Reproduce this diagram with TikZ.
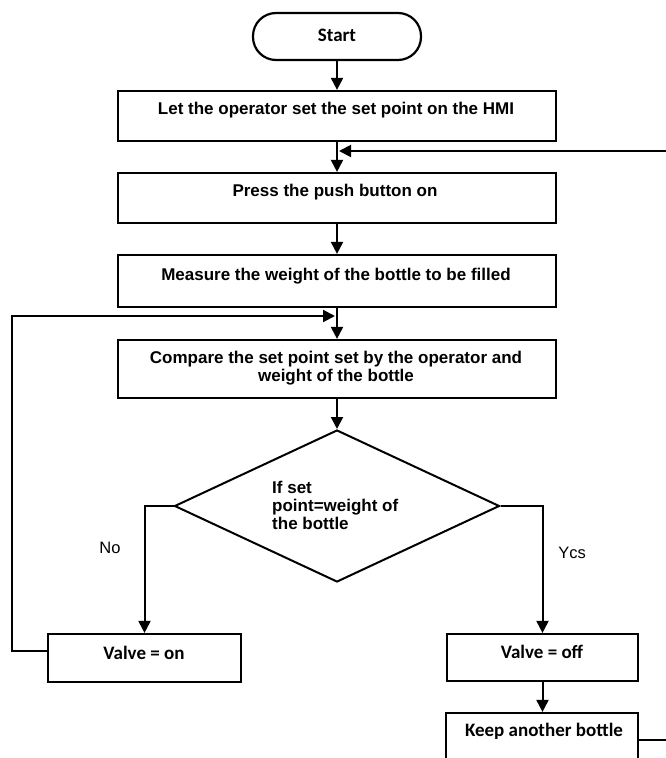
\documentclass[tikz,border=0pt]{standalone}
\usepackage{fontspec}
\setmainfont{Liberation Sans}
\newfontfamily\carl{Carlito}
\usetikzlibrary{arrows.meta,shapes.geometric}
\begin{document}
\begin{tikzpicture}[x=1pt,y=-1pt,
 box/.style={draw,line width=2.2pt,rectangle,inner sep=0pt},
 txt/.style={font=\fontsize{17}{18.5}\selectfont\bfseries, inner sep=0pt, align=center},
 ctxt/.style={font=\carl\fontsize{19}{22}\selectfont\bfseries, inner sep=0pt},
 lbl/.style={font=\fontsize{16.5}{19}\selectfont, inner sep=0pt},
 conn/.style={line width=2pt},
 arr/.style={conn,-{Triangle[length=12pt,width=12pt]}}]
\useasboundingbox (0,0) rectangle (666,758);
\clip (0,0) rectangle (666,758);
\fill[white] (0,0) rectangle (666,758);

\node[box, rounded corners=23pt, minimum width=168pt, minimum height=47pt] (start) at (337,36.5) {};
\node[ctxt] (startt) at (337,35) {Start};

\node[box, minimum width=438pt, minimum height=50pt] (b1) at (337,116) {};
\node[txt] (b1t) at (336,110) {Let the operator set the set point on the HMI};

\node[box, minimum width=438pt, minimum height=50pt] (b2) at (337,198) {};
\node[txt] (b2t) at (335,192) {Press the push button on};

\node[box, minimum width=438pt, minimum height=52pt] (b3) at (337,281) {};
\node[txt] (b3t) at (336,276) {Measure the weight of the bottle to be filled};

\node[box, minimum width=438pt, minimum height=58pt] (b4) at (337,369) {};
\node[txt] (b4t) at (336,368) {Compare the set point set by the operator and\\weight of the bottle};

\node[draw, diamond, line width=2pt, inner sep=0pt, minimum width=325pt, minimum height=152pt] (d) at (337,506) {};
\node[txt, align=left, anchor=west, font=\fontsize{17}{18}\selectfont\bfseries] (dt) at (272,505) {If set\\point=weight of\\the bottle};

\node[box, minimum width=193pt, minimum height=48pt] (von) at (144.5,658) {};
\node[ctxt] (vont) at (144,653) {Valve = on};

\node[box, minimum width=191pt, minimum height=47pt] (voff) at (542.5,657.5) {};
\node[ctxt] (vofft) at (542,652) {Valve = off};

\node[box, minimum width=192pt, minimum height=52pt] (keep) at (542,739) {};
\node[ctxt] (keept) at (544,731) {Keep another bottle};

\node[lbl] (no) at (110,548) {No};
\node[lbl] (yes) at (572,553) {Ycs};

\coordinate (j1) at (339,151);
\coordinate (r1) at (672,151);
\coordinate (j2) at (335,316);
\coordinate (l1) at (12,651);
\coordinate (r2) at (672,740);

\draw[arr] (start.south) -- (b1.north -| start.south);
\draw[arr] (b1.south -| start.south) -- (b2.north -| start.south);
\draw[arr] (r1) -- (j1);
\draw[arr] (b2.south -| start.south) -- (b3.north -| start.south);
\draw[arr] (b3.south -| start.south) -- (b4.north -| start.south);
\draw[arr] ([yshift=7pt]von.west) -- (l1) |- (j2);
\draw[arr] (b4.south -| start.south) -- (d.north);
\draw[arr] (d.west) -| (von.north);
\draw[arr] (d.east) -| (voff.north);
\draw[arr] (voff.south) -- (keep.north -| voff.south);
\draw[conn] (keep.east |- r2) -- (r2);
\end{tikzpicture}
\end{document}
